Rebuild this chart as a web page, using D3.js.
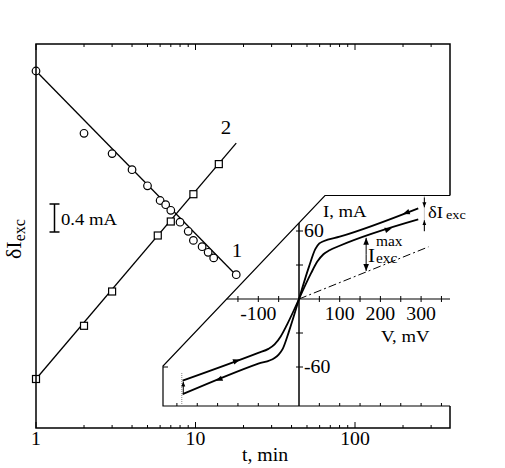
<!DOCTYPE html>
<html>
<head>
<meta charset="utf-8">
<script src="https://cdn.jsdelivr.net/npm/d3@7"></script>
<style>
  body { margin: 0; background: #fff; }
  text { font-family: "Liberation Serif", "DejaVu Serif", serif; fill: #000; }
</style>
</head>
<body>
<div id="chart"></div>
<script>
// main panel: delta I_exc vs time (log)
var tCircles = [1, 2, 3, 4, 5, 6, 6.5, 7, 8, 9, 9.7, 11, 12, 13, 18];
var dCircles = [5.10, 4.21, 3.92, 3.69, 3.46, 3.25, 3.19, 3.11, 2.94, 2.81, 2.68, 2.59, 2.51, 2.43, 2.19];
var tSquares = [1, 2, 3, 5.8, 7, 9.7, 14];
var dSquares = [0.70, 1.46, 1.95, 2.75, 2.95, 3.34, 3.77];
var fit1 = [[1, 5.10], [17.5, 2.21]];
var fit2 = [[1, 0.70], [18, 4.07]];
var xTickLabels = [1, 10, 100];

// inset: I-V curves (V in mV, I in mA)
var posUpper = [[0, 0], [25, 29], [40, 44], [50, 49], [60, 51], [100, 55], [293, 80]];
var posLower = [[0, 0], [30, 23], [45, 33], [60, 39.5], [75, 43], [100, 47], [293, 70.3]];
var negUpper = [[-286, -72], [-100, -47.5], [-75, -44], [-60, -40], [-45, -33], [-30, -23], [0, 0]];
var negLower = [[-286, -84], [-100, -57], [-60, -52], [-50, -49], [-40, -44], [-25, -29], [0, 0]];
var ohmLine = [[0, 0], [318, 46]];
var vTickLabels = [-100, 100, 200, 300];
var iTickLabels = [60, -60];

var W = 505, H = 468;
var svg = d3.select("#chart").append("svg").attr("width", W).attr("height", H);

var fLeft = 36, fRight = 450, fTop = 44, fBottom = 428;
var x = d3.scaleLog().domain([1, 394]).range([fLeft, fRight]);
var y = d3.scaleLinear().domain([0, 5.5]).range([fBottom, 43]);

// text is a bit wider than Times in the original
var SX = 1.1;
function label(px, py, str, size, anchor) {
    return svg.append("text")
        .attr("transform", "translate(" + px + "," + py + ") scale(" + SX + ",1)")
        .attr("font-size", size)
        .attr("text-anchor", anchor || "start")
        .text(str);
}

// fit lines
var line = d3.line().x(function(d) { return x(d[0]); }).y(function(d) { return y(d[1]); });
svg.append("path").attr("d", line(fit1)).attr("fill", "none").attr("stroke", "#000").attr("stroke-width", 1.3);
svg.append("path").attr("d", line(fit2)).attr("fill", "none").attr("stroke", "#000").attr("stroke-width", 1.3);

// circles
svg.selectAll(".c").data(tCircles).enter().append("circle")
    .attr("cx", function(d) { return x(d); })
    .attr("cy", function(d, i) { return y(dCircles[i]); })
    .attr("r", 3.8)
    .attr("fill", "#fff").attr("stroke", "#000").attr("stroke-width", 1.2);

// squares
var s = 7;
svg.selectAll(".s").data(tSquares).enter().append("rect")
    .attr("x", function(d) { return x(d) - s / 2; })
    .attr("y", function(d, i) { return y(dSquares[i]) - s / 2; })
    .attr("width", s).attr("height", s)
    .attr("fill", "#fff").attr("stroke", "#000").attr("stroke-width", 1.2);

label(226, 134, "2", 19, "middle");
label(237, 257, "1", 19, "middle");

// scale bar 0.4 mA
var barTop = 204, barBot = barTop + (y(0) - y(0.4));
svg.append("path")
    .attr("d", "M54.5," + barTop + "V" + barBot + "M49.5," + barTop + "H59.5M49.5," + barBot + "H59.5")
    .attr("stroke", "#000").attr("stroke-width", 1.5).attr("fill", "none");
label(61, 225, "0.4 mA", 17);

// ---------------- inset ----------------
var xi = d3.scaleLinear().domain([-100, 300]).range([258.3, 421.1]);
var yi = d3.scaleLinear().domain([-60, 60]).range([367, 231]);
var inL = 163, inB = 406, inT = 195.5, diagY = 366, diagX = 325;

svg.append("path")
    .attr("d", "M" + inL + "," + inB + "V" + diagY + "L" + diagX + "," + inT + "H" + fRight + "V" + inB + "Z")
    .attr("fill", "#fff");
svg.append("path")
    .attr("d", "M" + fRight + "," + inB + "H" + inL + "V" + diagY + "L" + diagX + "," + inT + "H" + fRight)
    .attr("fill", "none").attr("stroke", "#000").attr("stroke-width", 1.2);

// zero axes
var zx0 = inL + (diagY - yi(0)) / (diagY - inT) * (diagX - inL);
svg.append("line").attr("x1", zx0).attr("x2", fRight).attr("y1", yi(0)).attr("y2", yi(0))
    .attr("stroke", "#000").attr("stroke-width", 1.2);
svg.append("line").attr("x1", xi(0)).attr("x2", xi(0)).attr("y1", 223).attr("y2", inB)
    .attr("stroke", "#000").attr("stroke-width", 1.5);

var vTicks = d3.range(-150, 351, 50).filter(function(v) { return v !== 0; });
svg.selectAll(".vt").data(vTicks).enter().append("line")
    .attr("x1", function(d) { return xi(d); }).attr("x2", function(d) { return xi(d); })
    .attr("y1", yi(0) - 3).attr("y2", yi(0) + 3)
    .attr("stroke", "#000").attr("stroke-width", 1);
var vTicksB = d3.range(-300, 351, 50);
svg.selectAll(".vtb").data(vTicksB).enter().append("line")
    .attr("x1", function(d) { return xi(d); }).attr("x2", function(d) { return xi(d); })
    .attr("y1", inB).attr("y2", function(d) { return d === 0 ? inB : inB - 3; })
    .attr("stroke", "#000").attr("stroke-width", 1);
var iTicks = [-60, -30, 30, 60];
svg.selectAll(".it").data(iTicks).enter().append("line")
    .attr("x1", xi(0) - 3).attr("x2", xi(0) + 4)
    .attr("y1", function(d) { return yi(d); }).attr("y2", function(d) { return yi(d); })
    .attr("stroke", "#000").attr("stroke-width", 1);
svg.append("line").attr("x1", inL).attr("x2", inL + 5).attr("y1", yi(-60)).attr("y2", yi(-60))
    .attr("stroke", "#000").attr("stroke-width", 1);

vTickLabels.forEach(function(d) { label(xi(d), 320, d, 18, "middle"); });
iTickLabels.forEach(function(d) { label(xi(0) + 5, yi(d) + 6, d, 18); });
label(323, 217, "I, mA", 17);
label(381, 342, "V, mV", 17);

// curves
var defs = svg.append("defs");
defs.append("marker").attr("id", "ah").attr("viewBox", "0 0 10 10")
    .attr("refX", 10).attr("refY", 5).attr("markerWidth", 12).attr("markerHeight", 7)
    .attr("markerUnits", "userSpaceOnUse").attr("orient", "auto")
    .append("path").attr("d", "M0,1L10,5L0,9Z").attr("fill", "#000");
defs.append("marker").attr("id", "ahs").attr("viewBox", "0 0 10 10")
    .attr("refX", 10).attr("refY", 5).attr("markerWidth", 5).attr("markerHeight", 5)
    .attr("markerUnits", "userSpaceOnUse").attr("orient", "auto")
    .append("path").attr("d", "M0,1L10,5L0,9Z").attr("fill", "#000");

var iline = d3.line().x(function(d) { return xi(d[0]); }).y(function(d) { return yi(d[1]); })
    .curve(d3.curveMonotoneX);
[posUpper, posLower, negUpper, negLower].forEach(function(c) {
    svg.append("path").attr("d", iline(c)).attr("fill", "none")
        .attr("stroke", "#000").attr("stroke-width", 1.8);
});
svg.append("path").attr("d", d3.line().x(function(d) { return xi(d[0]); }).y(function(d) { return yi(d[1]); })(ohmLine))
    .attr("fill", "none").attr("stroke", "#000").attr("stroke-width", 1)
    .attr("stroke-dasharray", "8,3,2,3");

// direction arrows on branches: interpolate on the curve data
function interp(c, v) {
    for (var i = 0; i < c.length - 1; i++) {
        var a = c[i], b = c[i + 1];
        if ((v - a[0]) * (v - b[0]) <= 0) return a[1] + (b[1] - a[1]) * (v - a[0]) / (b[0] - a[0]);
    }
    return c[c.length - 1][1];
}
function arrowOn(c, v, dir) {
    var v0 = v - dir * 12;
    svg.append("line")
        .attr("x1", xi(v0)).attr("y1", yi(interp(c, v0)))
        .attr("x2", xi(v)).attr("y2", yi(interp(c, v)))
        .attr("stroke", "none").attr("marker-end", "url(#ah)");
}
arrowOn(posUpper, 255, -1);
arrowOn(posLower, 228, 1);
arrowOn(negUpper, -145, 1);
arrowOn(negLower, -205, -1);

// I_exc^max double arrow
var vMax = 165;
var ohmAt = function(v) { return interp(ohmLine, v); };
var midI = (interp(posLower, vMax) + ohmAt(vMax)) / 2;
svg.append("line").attr("x1", xi(vMax)).attr("x2", xi(vMax))
    .attr("y1", yi(midI)).attr("y2", yi(interp(posLower, vMax)) + 1)
    .attr("stroke", "#000").attr("stroke-width", 1).attr("marker-end", "url(#ah)");
svg.append("line").attr("x1", xi(vMax)).attr("x2", xi(vMax))
    .attr("y1", yi(midI)).attr("y2", yi(ohmAt(vMax)) - 1)
    .attr("stroke", "#000").attr("stroke-width", 1).attr("marker-end", "url(#ah)");
label(368, 262, "I", 19);
label(376, 246, "max", 14);
label(376, 263, "exc", 14);

// delta I_exc marker on the right
var vD = 308;
svg.append("line").attr("x1", xi(vD)).attr("x2", xi(vD)).attr("y1", inT + 1).attr("y2", 232)
    .attr("stroke", "#888").attr("stroke-width", 1).attr("stroke-dasharray", "1,1");
svg.append("line").attr("x1", xi(vD)).attr("x2", xi(vD))
    .attr("y1", inT + 2).attr("y2", yi(interp(posUpper, 293)) - 1)
    .attr("stroke", "#000").attr("stroke-width", 1).attr("marker-end", "url(#ahs)");
svg.append("line").attr("x1", xi(vD)).attr("x2", xi(vD))
    .attr("y1", 231).attr("y2", yi(interp(posLower, 293)) + 1)
    .attr("stroke", "#000").attr("stroke-width", 1).attr("marker-end", "url(#ahs)");
label(428, 218, "\u03b4I", 17);
label(446, 219, "exc", 13);

// left marker
var vL = -288;
svg.append("line").attr("x1", xi(vL)).attr("x2", xi(vL)).attr("y1", 373).attr("y2", inB)
    .attr("stroke", "#888").attr("stroke-width", 1).attr("stroke-dasharray", "1,1");
svg.append("line").attr("x1", xi(vL) + 1.5).attr("x2", xi(vL) + 1.5)
    .attr("y1", yi(-84) - 1).attr("y2", yi(-72) + 1)
    .attr("stroke", "#000").attr("stroke-width", 1).attr("marker-end", "url(#ahs)");

// ---------------- main frame ----------------
svg.append("path")
    .attr("d", "M" + fRight + "," + inT + "V" + fTop + "H" + fLeft + "V" + fBottom + "H" + fRight + "V" + inB)
    .attr("fill", "none").attr("stroke", "#000").attr("stroke-width", 1.5);

var xt = x.ticks();
var isMajor = function(d) { return xTickLabels.indexOf(d) >= 0; };
svg.selectAll(".xb").data(xt).enter().append("line")
    .attr("x1", function(d) { return x(d); }).attr("x2", function(d) { return x(d); })
    .attr("y1", fBottom).attr("y2", function(d) { return fBottom - (isMajor(d) ? 6 : 3); })
    .attr("stroke", "#000").attr("stroke-width", 1);
svg.selectAll(".xtp").data(xt).enter().append("line")
    .attr("x1", function(d) { return x(d); }).attr("x2", function(d) { return x(d); })
    .attr("y1", fTop).attr("y2", function(d) { return fTop + (isMajor(d) ? 6 : 3); })
    .attr("stroke", "#000").attr("stroke-width", 1);
xTickLabels.forEach(function(d) { label(x(d), 445, d, 18, "middle"); });
label(265, 461, "t, min", 18, "middle");

var yl = svg.append("text").attr("transform", "translate(21,259) rotate(-90)").attr("font-size", 22);
yl.append("tspan").text("\u03b4I");
yl.append("tspan").attr("font-size", 16).attr("dy", 4).text("exc");
</script>
</body>
</html>
